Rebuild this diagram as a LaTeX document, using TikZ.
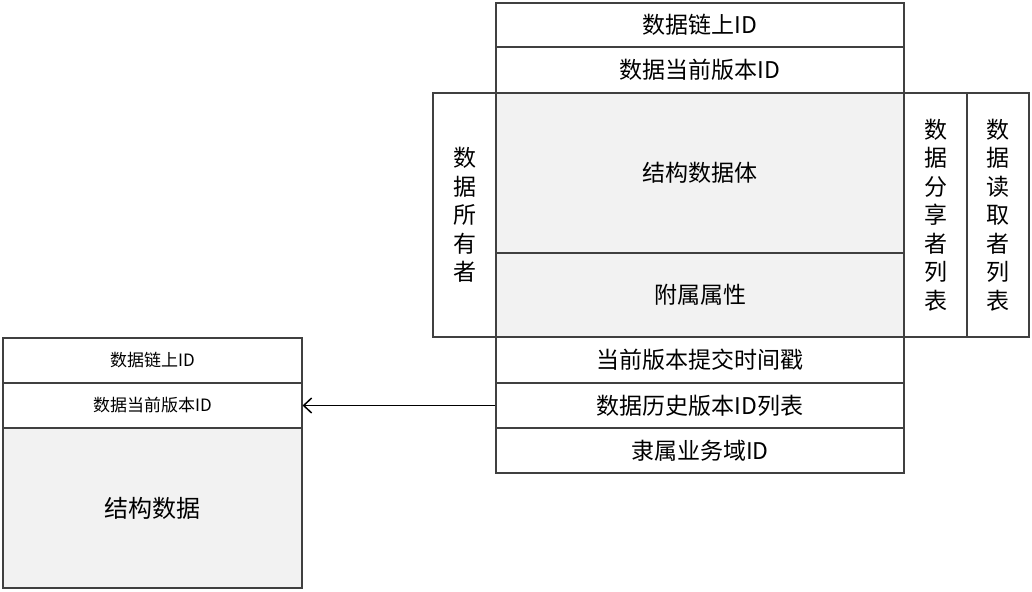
\documentclass[tikz,border=0pt]{standalone}
\usepackage{fontspec}
\newfontfamily\cjk{Noto Sans CJK SC}
\usetikzlibrary{arrows.meta}

\tikzset{
  field/.style={draw=black!75, line width=1.1pt, rectangle, inner sep=0pt,
    font=\cjk\fontsize{23}{28.5}\selectfont},
  smallfield/.style={field, font=\cjk\fontsize{17}{20}\selectfont},
  shaded/.style={fill=black!5},
  column/.style={field, align=center, minimum width=63pt, minimum height=244pt}
}

\begin{document}
\begin{tikzpicture}[x=1pt, y=-1pt]
    \useasboundingbox (0,0) rectangle (1032,591);

    \node[field, minimum width=408pt, minimum height=44pt] (chainid) at (700, 25) {数据链上ID};
    \node[field, minimum width=408pt, minimum height=46pt] (curver) at (700, 70) {数据当前版本ID};
    \node[field, shaded, minimum width=408pt, minimum height=160pt] (body) at (700, 173) {结构数据体};
    \node[field, shaded, minimum width=408pt, minimum height=84pt] (attr) at (700, 295) {附属属性};
    \node[column] (owner) at (464.5, 215) {数\\据\\所\\有\\者};
    \node[column] (sharers) at (935.5, 215) {数\\据\\分\\享\\者\\列\\表};
    \node[column, minimum width=62pt] (readers) at (998, 215) {数\\据\\读\\取\\者\\列\\表};
    \node[field, minimum width=408pt, minimum height=46pt] (committime) at (700, 360) {当前版本提交时间戳};
    \node[field, minimum width=408pt, minimum height=45pt] (histlist) at (700, 405.5) {数据历史版本ID列表};
    \node[field, minimum width=408pt, minimum height=45pt] (domain) at (700, 450.5) {隶属业务域ID};

    \node[smallfield, minimum width=299pt, minimum height=45pt] (lchainid) at (152.5, 360.5) {数据链上ID};
    \node[smallfield, minimum width=299pt, minimum height=45pt] (lcurver) at (152.5, 405.5) {数据当前版本ID};
    \node[field, shaded, font=\cjk\fontsize{24}{28.5}\selectfont, minimum width=299pt, minimum height=160pt] (ldata) at (152.5, 508) {结构数据};

    \draw[-{Straight Barb[length=8pt, width=15pt]}, line width=1.5pt] (histlist.west) -- (lcurver.east);
\end{tikzpicture}
\end{document}
